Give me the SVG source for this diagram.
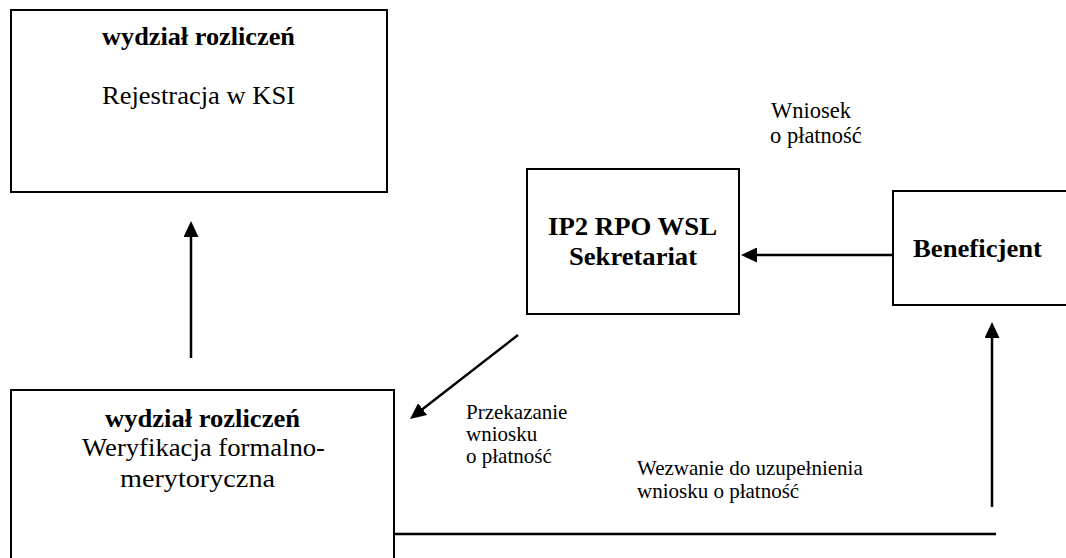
<svg xmlns="http://www.w3.org/2000/svg" width="1066" height="558" viewBox="0 0 1066 558">
  <style>
    .box { fill: #ffffff; stroke: #000000; stroke-width: 2; }
    text { font-family: 'Liberation Serif', 'DejaVu Serif', serif; fill: #000000; }
    .title { font-size: 25px; font-weight: bold; }
    .body { font-size: 25px; }
    .label { font-size: 21px; }
    .large { font-size: 22.5px; }
    .conn { fill: none; stroke: #000000; stroke-width: 2.5; }
  </style>
  <defs>
    <marker id="arrow" markerUnits="userSpaceOnUse" markerWidth="16" markerHeight="15" refX="4" refY="7.5" orient="auto">
      <path d="M0,0 L16,7.5 L0,15 z" fill="#000000"/>
    </marker>
  </defs>
  <rect width="1066" height="558" fill="#ffffff"/>

  <!-- Settlement department: registration in KSI -->
  <g id="node-rejestracja">
    <rect class="box" x="11" y="10" width="376" height="182"/>
    <text class="title" x="102" y="45" textLength="193" lengthAdjust="spacingAndGlyphs">wydział rozliczeń</text>
    <text class="body" x="102" y="104" textLength="193" lengthAdjust="spacingAndGlyphs">Rejestracja w KSI</text>
  </g>

  <!-- Secretariat -->
  <g id="node-sekretariat">
    <rect class="box" x="527" y="169" width="212" height="145"/>
    <text class="title" x="548" y="235" textLength="169" lengthAdjust="spacingAndGlyphs">IP2 RPO WSL</text>
    <text class="title" x="569" y="265" textLength="128" lengthAdjust="spacingAndGlyphs">Sekretariat</text>
  </g>

  <!-- Beneficiary (runs off the right edge) -->
  <g id="node-beneficjent">
    <rect class="box" x="893" y="191" width="200" height="114"/>
    <text class="title" x="913" y="257" textLength="129" lengthAdjust="spacingAndGlyphs">Beneficjent</text>
  </g>

  <!-- Settlement department: formal and substantive verification (runs off the bottom edge) -->
  <g id="node-weryfikacja">
    <rect class="box" x="11" y="390" width="383" height="220"/>
    <text class="title" x="105" y="427" textLength="195" lengthAdjust="spacingAndGlyphs">wydział rozliczeń</text>
    <text class="body" x="82" y="456" textLength="243" lengthAdjust="spacingAndGlyphs">Weryfikacja formalno-</text>
    <text class="body" x="120" y="487" textLength="155" lengthAdjust="spacingAndGlyphs">merytoryczna</text>
  </g>

  <!-- Connectors -->
  <g id="connectors">
    <line class="conn" x1="191" y1="358" x2="191" y2="233" marker-end="url(#arrow)"/>
    <line class="conn" x1="893" y1="255" x2="753" y2="255" marker-end="url(#arrow)"/>
    <line class="conn" x1="518" y1="335" x2="419.5" y2="411.6" marker-end="url(#arrow)"/>
    <line class="conn" x1="394" y1="534" x2="996" y2="534"/>
    <line class="conn" x1="992" y1="507" x2="992" y2="334" marker-end="url(#arrow)"/>
  </g>

  <!-- Connector labels -->
  <g id="labels">
    <text class="large" x="771" y="118">Wniosek</text>
    <text class="large" x="770" y="143">o płatność</text>
    <text class="label" x="466" y="419">Przekazanie</text>
    <text class="label" x="466" y="441">wniosku</text>
    <text class="label" x="466" y="463">o płatność</text>
    <text class="label" x="637" y="475">Wezwanie do uzupełnienia</text>
    <text class="label" x="637" y="498">wniosku o płatność</text>
  </g>
</svg>
